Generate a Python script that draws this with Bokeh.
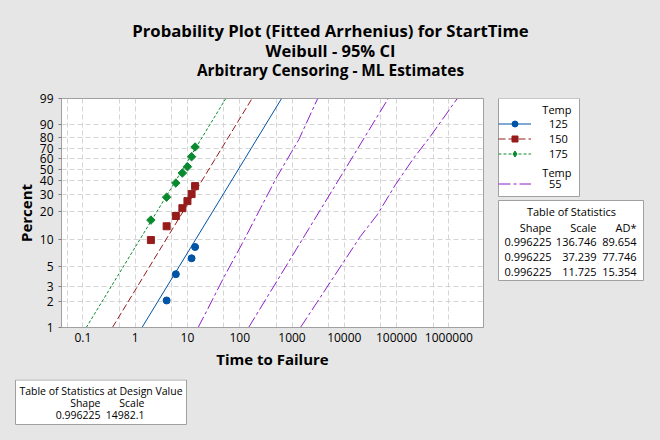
import numpy as np
from bokeh.plotting import figure
from bokeh.layouts import column, row
from bokeh.models import Range1d, FixedTicker, CustomJSTickFormatter, Legend, LegendItem
from bokeh.core.properties import value
from bokeh.embed import file_html
from bokeh.resources import INLINE

# ---------------- data ----------------
t125 = [4, 6, 12, 14]
p125 = [2.05, 4.1, 6.2, 8.3]
t150 = [2, 4, 6, 8, 10, 12, 14]
p150 = [9.9, 14.0, 18.0, 21.7, 25.6, 30.0, 35.7]
t175 = [2, 4, 6, 8, 10, 12, 14]
p175 = [16.3, 28.0, 38.1, 46.6, 52.4, 62.1, 71.6]

temps = ["125", "150", "175"]
shape = [0.996225, 0.996225, 0.996225]
scale = [136.746, 37.239, 11.725]
ad = [89.654, 77.746, 15.354]
design_temp = "55"
design_shape = 0.996225
design_scale = 14982.1

# fitted lines (ends at 1% and 99%)
fit_p = [1, 99]
fit_t125 = [1.35, 632]
fit_t150 = [0.367, 172]
fit_t175 = [0.116, 54.2]
fit_t55 = [148, 69300]
# 95% CI for design value
ci_lo_t = [16, 24, 50, 112, 250, 520, 1350, 3100]
ci_lo_p = [1, 1.6, 3.8, 9.1, 21.7, 43.6, 78.4, 99]
ci_hi_t = [1450, 20400, 42600, 95000, 213000, 445000, 1450000]
ci_hi_p = [1, 10.9, 18.5, 36.7, 60.8, 81.3, 99]

pct_ticks = [1, 2, 3, 5, 10, 20, 30, 40, 50, 60, 70, 80, 90, 99]
x_ticks = [0.1, 1, 10, 100, 1000, 10000, 100000, 1000000]
x_grid = [0.05, 0.1, 0.5, 1, 5, 10, 50, 100, 500, 1000, 5000, 10000,
          50000, 100000, 500000, 1000000]

titles = ["Probability Plot (Fitted Arrhenius) for StartTime",
          "Weibull - 95% CI",
          "Arbitrary Censoring - ML Estimates"]


def z(pc):
    pc = np.asarray(pc, dtype=float) / 100.0
    return np.log(-np.log(1 - pc))


BG = "#e6e6e6"
BLUE = "#0054a6"
RED = "#961b1b"
GREEN = "#0a8a2e"
PURPLE = "#8e1ec8"
BORDER = "#a0a0a0"
FONT = "Open Sans"
DASH55 = "12 3 3 3"
DASH150 = "7 3"
DASH175 = "3 2"

MB_TOP, MB_BOT = 10, 52   # main plot borders (frame spans page y 98..327)


def blank(w, h, x0, y0, top=0, bottom=0):
    fh = h - top - bottom
    f = figure(width=w, height=h, x_range=Range1d(x0, x0 + w),
               y_range=Range1d(y0 + top + fh, y0 + top),
               x_axis_location=None, y_axis_location=None, output_backend="svg",
               toolbar_location=None, min_border=0, min_border_top=top,
               min_border_bottom=bottom, outline_line_color=None,
               background_fill_color=BG, border_fill_color=BG)
    f.grid.visible = False
    return f


def txt(f, x, y, s, size="11px", align="left", style="normal"):
    f.text(x=[x], y=[y], text=[s], text_font=value(FONT), text_font_size=value(size),
           text_align=align, text_baseline="middle", text_font_style=style, text_color="black")


# ---------------- top: titles ----------------
top = blank(660, 88, 0, 0)
for s, yy, fs in zip(titles, [30, 50, 69.5], ["16.7px", "16.5px", "15.4px"]):
    txt(top, 330, yy, s, fs, "center", "bold")

# ---------------- main plot ----------------
p = figure(width=490, height=291, x_axis_type="log",
           x_range=Range1d(0.039, 4.6e6), y_range=Range1d(float(z(1)), float(z(99))),
           output_backend="svg", toolbar_location=None,
           min_border_left=61, min_border_right=7, min_border_top=MB_TOP,
           min_border_bottom=MB_BOT,
           background_fill_color="white", border_fill_color=BG, outline_line_color=BORDER)

p.xaxis.ticker = FixedTicker(ticks=x_ticks)
p.xaxis.formatter = CustomJSTickFormatter(code="return String(tick)")
p.yaxis.ticker = FixedTicker(ticks=[float(v) for v in z(pct_ticks)])
p.yaxis.formatter = CustomJSTickFormatter(
    code="return String(Math.round(100*(1-Math.exp(-Math.exp(tick)))))")
for ax in (p.xaxis[0], p.yaxis[0]):
    ax.axis_line_color = BORDER
    ax.major_tick_line_color = "#808080"
    ax.minor_tick_line_color = None
    ax.major_label_text_font = FONT
    ax.major_label_text_font_size = "12px"
    ax.major_label_text_color = "black"
    ax.axis_label_text_font = FONT
    ax.axis_label_text_font_size = "15px"
    ax.axis_label_text_font_style = "bold"
    ax.axis_label_text_color = "black"
p.xaxis.major_tick_out = 0
p.xaxis.major_tick_in = 0
p.xaxis.major_label_standoff = 5
p.xaxis.axis_label = "Time to Failure"
p.xaxis.axis_label_standoff = 4
p.yaxis.major_tick_out = 3
p.yaxis.major_tick_in = 0
p.yaxis.major_label_standoff = 5
p.yaxis.axis_label = "Percent"
p.yaxis.axis_label_standoff = 1

p.xgrid.ticker = FixedTicker(ticks=x_grid)
p.ygrid.ticker = FixedTicker(ticks=[float(v) for v in z(pct_ticks)])
for g in (p.xgrid[0], p.ygrid[0]):
    g.grid_line_color = "#d4d4d4"
    g.grid_line_dash = "5 3"
    g.grid_line_width = 1

p.line(fit_t55, z(fit_p), line_color=PURPLE, line_width=1, line_dash=DASH55)
p.line(ci_lo_t, z(ci_lo_p), line_color=PURPLE, line_width=1, line_dash=DASH55)
p.line(ci_hi_t, z(ci_hi_p), line_color=PURPLE, line_width=1, line_dash=DASH55)
p.line(fit_t125, z(fit_p), line_color=BLUE, line_width=1)
p.line(fit_t150, z(fit_p), line_color=RED, line_width=1, line_dash=DASH150)
p.line(fit_t175, z(fit_p), line_color=GREEN, line_width=1, line_dash=DASH175)
p.scatter(t125, z(p125), marker="circle", size=7, fill_color=BLUE, line_color=BLUE)
p.scatter(t150, z(p150), marker="square", size=7, fill_color=RED, line_color=RED)
p.scatter(t175, z(p175), marker="square", size=6, angle=np.pi / 4,
          fill_color=GREEN, line_color=GREEN)

# ---------------- right side: legend + statistics ----------------
side = blank(170, 291, 490, 88, top=MB_TOP, bottom=MB_BOT)
# legend box and its group headers (drawn under a transparent Legend)
side.quad(left=[498], right=[579], top=[98], bottom=[196],
          fill_color="white", line_color=BORDER, line_width=1)
txt(side, 571, 108.5, "Temp", "11px", "right")
txt(side, 571, 172, "Temp", "11px", "right")

nan = [np.nan]   # legend-only renderers: nothing is drawn in the frame
sp1 = side.line(x=nan, y=nan, line_alpha=0)
l125 = side.line(x=nan, y=nan, line_color=BLUE, line_width=1)
m125 = side.scatter(x=nan, y=nan, marker="circle", size=7, fill_color=BLUE, line_color=BLUE)
l150 = side.line(x=nan, y=nan, line_color=RED, line_width=1, line_dash=DASH150)
m150 = side.scatter(x=nan, y=nan, marker="square", size=7, fill_color=RED, line_color=RED)
l175 = side.line(x=nan, y=nan, line_color=GREEN, line_width=1, line_dash=DASH175)
m175 = side.scatter(x=nan, y=nan, marker="diamond", size=11,
                    fill_color=GREEN, line_color=GREEN)
sp2 = side.line(x=nan, y=nan, line_alpha=0)
l55 = side.line(x=nan, y=nan, line_color=PURPLE, line_width=1, line_dash=DASH55)

legend = Legend(items=[
    LegendItem(label=" ", renderers=[sp1]),
    LegendItem(label=temps[0], renderers=[l125, m125]),
    LegendItem(label=temps[1], renderers=[l150, m150]),
    LegendItem(label=temps[2], renderers=[l175, m175]),
    LegendItem(label=" ", renderers=[sp2]),
    LegendItem(label=design_temp, renderers=[l55]),
], location=(8, 136), orientation="vertical",
    glyph_width=33, glyph_height=15, label_height=15, label_width=20,
    label_standoff=18, spacing=0, padding=4, margin=0,
    border_line_color=None, background_fill_alpha=0,
    label_text_font=FONT, label_text_font_size="11px", label_text_color="black")
side.add_layout(legend)

side.quad(left=[498], right=[643], top=[200], bottom=[280],
          fill_color="white", line_color=BORDER, line_width=1)
txt(side, 571, 211, "Table of Statistics", "11px", "center")
txt(side, 551, 226.5, "Shape", "11px", "right")
txt(side, 596, 226.5, "Scale", "11px", "right")
txt(side, 636, 226.5, "AD*", "11px", "right")
for i in range(3):
    yy = 241 + 15 * i
    txt(side, 551, yy, f"{shape[i]:.6f}", "11px", "right")
    txt(side, 596, yy, f"{scale[i]:.3f}", "11px", "right")
    txt(side, 636, yy, f"{ad[i]:.3f}", "11px", "right")

# ---------------- bottom: design value table ----------------
bot = blank(660, 61, 0, 379)
bot.quad(left=[15], right=[186], top=[379.5], bottom=[424],
         fill_color="white", line_color=BORDER, line_width=1)
txt(bot, 100.5, 390, "Table of Statistics at Design Value", "10.5px", "center")
txt(bot, 100, 402.5, "Shape", "10.5px", "right")
txt(bot, 144, 402.5, "Scale", "10.5px", "right")
txt(bot, 100, 414, f"{design_shape:.6f}", "10.5px", "right")
txt(bot, 144, 414, f"{design_scale:.1f}", "10.5px", "right")

mid = row(p, side, spacing=0, styles={"background-color": BG})
layout = column(top, mid, bot, spacing=0, styles={"background-color": BG})
open("out.html", "w").write(file_html(layout, INLINE))
